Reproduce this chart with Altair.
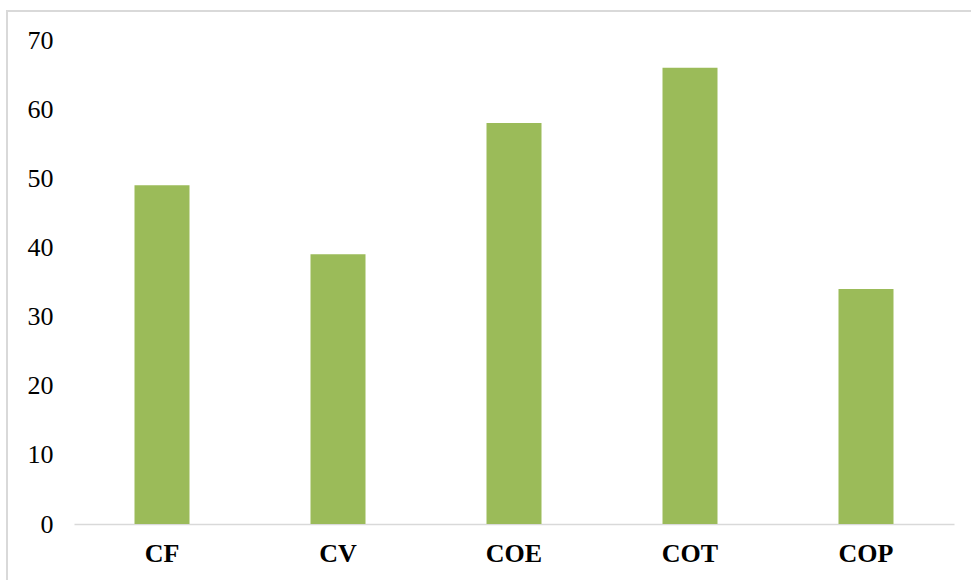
import altair as alt
import pandas as pd

categories = ["CF", "CV", "COE", "COT", "COP"]
values = [49, 39, 58, 66, 34]

df = pd.DataFrame({"cat": categories, "val": values})

W, H = 880, 484
serif = "Liberation Serif"

bars = alt.Chart(df).mark_bar(color="#9BBB59").encode(
    x=alt.X("cat:N", sort=categories,
            scale=alt.Scale(paddingInner=0.6875, paddingOuter=0.34375),
            axis=alt.Axis(title=None, labelAngle=0, labelFont=serif, labelFontSize=26,
                          labelFontWeight="bold", labelColor="#000000", labelPadding=16,
                          ticks=False, domainColor="#d9d9d9", domainWidth=1.5, grid=False)),
    y=alt.Y("val:Q", scale=alt.Scale(domain=[0, 70], nice=False),
            axis=alt.Axis(title=None, values=[0, 10, 20, 30, 40, 50, 60, 70],
                          labelFont=serif, labelFontSize=26, labelColor="#000000",
                          labelPadding=21, ticks=False, domain=False, grid=False)),
)

frame = alt.Chart(df).mark_rect(fill=None, stroke="#d9d9d9", strokeWidth=1.5, clip=False).encode(
    x=alt.value(-67), x2=alt.value(W + 40), y=alt.value(-29), y2=alt.value(H + 80)
)

chart = alt.layer(frame, bars).properties(
    width=W, height=H,
    background="#ffffff",
    autosize=alt.AutoSizeParams(type="none"),
    padding={"left": 74, "top": 40, "right": 17, "bottom": 56},
).configure_view(strokeWidth=0, stroke=None)

chart.save("out.html", embed_options={"renderer": "svg", "actions": False})
